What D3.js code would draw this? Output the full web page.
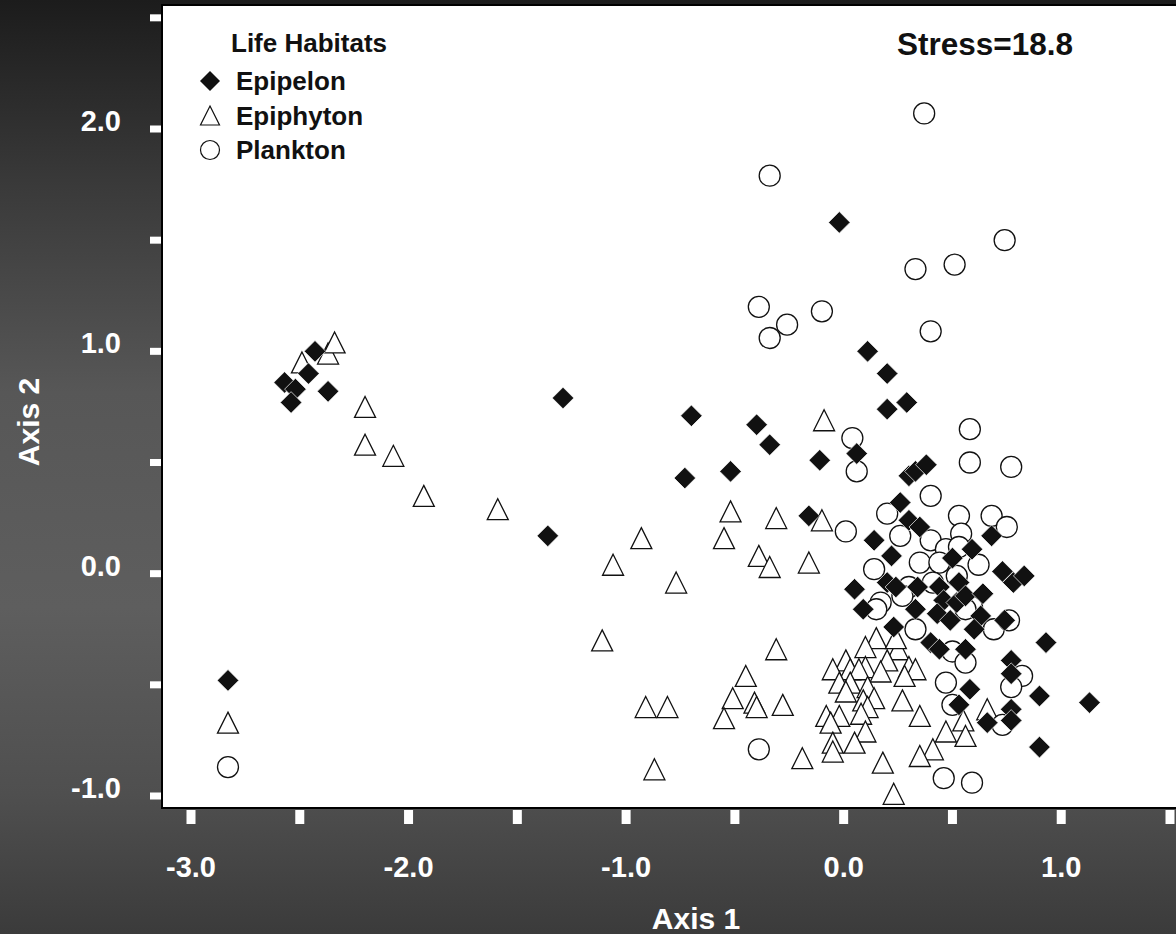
<!DOCTYPE html>
<html>
<head>
<meta charset="utf-8">
<script src="https://cdn.jsdelivr.net/npm/d3@7"></script>
<style>
  body { margin: 0; background: #333; }
  svg { display: block; }
  text { font-family: "Liberation Sans", Arial, Helvetica, sans-serif; font-weight: bold; }
</style>
</head>
<body>
<svg id="chart" width="1176" height="934"></svg>
<script>
// NMDS ordination scores, [axis1, axis2]
var epipelon = [
  [-2.83,-0.48],[-2.57,0.86],[-2.52,0.83],[-2.54,0.77],[-2.46,0.90],[-2.43,1.00],[-2.37,0.82],
  [-1.36,0.17],[-1.29,0.79],[-0.73,0.43],[-0.70,0.71],[-0.52,0.46],[-0.40,0.67],[-0.34,0.58],
  [-0.16,0.26],[-0.11,0.51],[-0.02,1.58],[0.06,0.54],[0.11,1.00],[0.20,0.90],[0.20,0.74],[0.29,0.77],
  [0.30,0.44],[0.33,0.46],[0.38,0.49],[0.26,0.32],[0.30,0.24],[0.35,0.21],[0.14,0.15],[0.22,0.08],
  [0.50,0.07],[0.59,0.11],[0.68,0.17],[0.73,0.01],[0.78,-0.04],[0.83,-0.01],[0.05,-0.07],[0.20,-0.04],
  [0.24,-0.06],[0.34,-0.06],[0.09,-0.16],[0.23,-0.24],[0.33,-0.16],[0.44,-0.06],[0.53,-0.04],[0.46,-0.12],
  [0.52,-0.13],[0.43,-0.18],[0.49,-0.21],[0.56,-0.10],[0.64,-0.09],[0.63,-0.19],[0.60,-0.25],[0.74,-0.21],
  [0.93,-0.31],[0.40,-0.31],[0.44,-0.34],[0.56,-0.34],[0.77,-0.39],[0.77,-0.45],[0.58,-0.52],[0.53,-0.59],
  [0.90,-0.55],[1.13,-0.58],[0.77,-0.61],[0.77,-0.66],[0.66,-0.67],[0.90,-0.78]
];

var epiphyton = [
  [-2.83,-0.67],[-2.49,0.95],[-2.37,0.99],[-2.34,1.04],[-2.20,0.75],[-2.20,0.58],[-2.07,0.53],[-1.93,0.35],
  [-1.59,0.29],[-1.06,0.04],[-0.93,0.16],[-1.11,-0.30],[-0.77,-0.04],[-0.91,-0.60],[-0.81,-0.60],[-0.87,-0.88],
  [-0.52,0.28],[-0.55,0.16],[-0.45,-0.46],[-0.51,-0.56],[-0.55,-0.65],[-0.31,0.25],[-0.39,0.08],[-0.34,0.03],
  [-0.31,-0.34],[-0.41,-0.58],[-0.40,-0.60],[-0.28,-0.59],[-0.16,0.05],[-0.09,0.69],[-0.10,0.24],[-0.19,-0.83],
  [0.15,-0.29],[0.10,-0.33],[0.25,-0.34],[0.24,-0.29],[0.20,-0.39],[0.01,-0.39],[-0.05,-0.43],[0.03,-0.43],
  [0.10,-0.42],[0.07,-0.43],[0.17,-0.44],[0.30,-0.42],[0.33,-0.43],[0.28,-0.46],[-0.02,-0.49],[0.03,-0.49],
  [0.11,-0.51],[0.01,-0.53],[0.14,-0.56],[0.09,-0.57],[0.11,-0.60],[0.27,-0.57],[0.08,-0.63],[-0.08,-0.64],
  [-0.02,-0.64],[-0.06,-0.67],[0.35,-0.64],[0.10,-0.71],[-0.05,-0.76],[-0.05,-0.80],[0.05,-0.76],[0.47,-0.71],
  [0.55,-0.66],[0.56,-0.73],[0.66,-0.61],[0.41,-0.79],[0.35,-0.82],[0.18,-0.85],[0.23,-0.99]
];

var plankton = [
  [-2.83,-0.87],[-0.34,1.79],[0.37,2.07],[0.74,1.50],[0.51,1.39],[0.33,1.37],[-0.39,1.20],[-0.26,1.12],
  [-0.34,1.06],[-0.10,1.18],[0.40,1.09],[0.58,0.65],[0.58,0.50],[0.77,0.48],[0.04,0.61],[0.06,0.46],
  [0.40,0.35],[0.20,0.27],[0.53,0.26],[0.68,0.26],[0.75,0.21],[0.54,0.18],[0.01,0.19],[0.26,0.17],
  [0.40,0.15],[0.47,0.11],[0.53,0.12],[0.35,0.05],[0.62,0.04],[0.14,0.02],[0.44,0.05],[0.52,-0.01],
  [0.30,-0.06],[0.17,-0.13],[0.27,-0.10],[0.41,-0.04],[0.59,-0.15],[0.15,-0.16],[0.33,-0.25],[0.50,-0.35],
  [0.56,-0.40],[0.69,-0.25],[0.76,-0.21],[0.47,-0.49],[0.50,-0.59],[0.82,-0.46],[0.77,-0.51],[0.73,-0.68],
  [0.46,-0.92],[0.59,-0.94],[-0.39,-0.79],[0.56,-0.16]
];

var xTicks = [-3.0, -2.5, -2.0, -1.5, -1.0, -0.5, 0.0, 0.5, 1.0, 1.5];
var xLabels = [-3.0, -2.0, -1.0, 0.0, 1.0];
var yTicks = [-1.0, -0.5, 0.0, 0.5, 1.0, 1.5, 2.0, 2.5];
var yLabels = [-1.0, 0.0, 1.0, 2.0];
var legendItems = ['Epipelon', 'Epiphyton', 'Plankton'];
var stressText = 'Stress=18.8';

var width = 1176, height = 934;
var plot = {left: 162, top: 5, bottom: 808};

var svg = d3.select('#chart');

var x = d3.scaleLinear().domain([-3, 1.5]).range([191, 1170]);
var y = d3.scaleLinear().domain([-1, 2]).range([796, 129]);

// plain hyphen for negatives, like the original
var fmt = function(d) { return d.toFixed(1); };

// background
var grad = svg.append('defs').append('linearGradient')
    .attr('id', 'bg').attr('x1', 0).attr('y1', 0).attr('x2', 0).attr('y2', 1);
[[0, '#1c1c1c'], [0.2, '#3a3a3a'], [0.42, '#575757'], [0.65, '#5e5e5e'], [0.85, '#4f4f4f'], [1, '#3b3b3b']]
  .forEach(function(s) { grad.append('stop').attr('offset', s[0]).attr('stop-color', s[1]); });

svg.append('rect').attr('width', width).attr('height', height).attr('fill', 'url(#bg)');

// ticks (white blocks outside the frame)
svg.selectAll('.ytick').data(yTicks).enter().append('rect')
    .attr('class', 'ytick')
    .attr('x', plot.left - 12).attr('width', 12)
    .attr('y', function(d) { return y(d) - 3.5; }).attr('height', 7)
    .attr('fill', '#fff');

svg.selectAll('.xtick').data(xTicks).enter().append('rect')
    .attr('class', 'xtick')
    .attr('x', function(d) { return x(d) - 4.5; }).attr('width', 9)
    .attr('y', plot.bottom + 2).attr('height', 14)
    .attr('fill', '#fff');

// plot frame
svg.append('rect')
    .attr('x', plot.left).attr('y', plot.top)
    .attr('width', width - plot.left + 10).attr('height', plot.bottom - plot.top)
    .attr('fill', '#fff').attr('stroke', '#000').attr('stroke-width', 2);

// tick labels
svg.selectAll('.ylab').data(yLabels).enter().append('text')
    .attr('class', 'ylab')
    .attr('x', 121).attr('y', function(d) { return y(d) + 2; })
    .attr('text-anchor', 'end').attr('fill', '#fff').style('font-size', '29px')
    .text(fmt);

svg.selectAll('.xlab').data(xLabels).enter().append('text')
    .attr('class', 'xlab')
    .attr('x', function(d) { return x(d); }).attr('y', 877)
    .attr('text-anchor', 'middle').attr('fill', '#fff').style('font-size', '29px')
    .text(fmt);

// axis titles
svg.append('text').attr('x', 696).attr('y', 929).attr('text-anchor', 'middle')
    .attr('fill', '#fff').style('font-size', '30px').text('Axis 1');
svg.append('text').attr('transform', 'translate(39,422) rotate(-90)').attr('text-anchor', 'middle')
    .attr('fill', '#fff').style('font-size', '30px').text('Axis 2');

// symbol shapes, centred on their bounding box
var diamondType = {draw: function(ctx, r) {
  ctx.moveTo(0, -r); ctx.lineTo(r, 0); ctx.lineTo(0, r); ctx.lineTo(-r, 0); ctx.closePath();
}};
var triangleType = {draw: function(ctx, r) {
  ctx.moveTo(0, -r); ctx.lineTo(r, r); ctx.lineTo(-r, r); ctx.closePath();
}};
var diamond = d3.symbol().type(diamondType).size(10.8);
var triangle = d3.symbol().type(triangleType).size(10.5);

var pts = svg.append('g');

pts.selectAll('.tri').data(epiphyton).enter().append('path')
    .attr('class', 'tri')
    .attr('d', triangle)
    .attr('transform', function(d) { return 'translate(' + x(d[0]) + ',' + y(d[1]) + ')'; })
    .attr('fill', '#fff').attr('stroke', '#111').attr('stroke-width', 1.3);

pts.selectAll('.circ').data(plankton).enter().append('circle')
    .attr('class', 'circ')
    .attr('cx', function(d) { return x(d[0]); })
    .attr('cy', function(d) { return y(d[1]); })
    .attr('r', 10.5)
    .attr('fill', '#fff').attr('stroke', '#111').attr('stroke-width', 1.3);

pts.selectAll('.dia').data(epipelon).enter().append('path')
    .attr('class', 'dia')
    .attr('d', diamond)
    .attr('transform', function(d) { return 'translate(' + x(d[0]) + ',' + y(d[1]) + ')'; })
    .attr('fill', '#111').attr('stroke', '#fff').attr('stroke-width', 0.7);

// legend
var legend = svg.append('g');
legend.append('text').attr('x', 231).attr('y', 52).style('font-size', '26px').attr('fill', '#111').text('Life Habitats');

var legendRows = legend.selectAll('.lrow').data(legendItems).enter().append('g')
    .attr('class', 'lrow')
    .attr('transform', function(d, i) { return 'translate(210,' + (81 + i * 34.5) + ')'; });

legendRows.append('text').attr('x', 26).attr('y', 9).style('font-size', '26px').attr('fill', '#111')
    .text(function(d) { return d; });

legendRows.each(function(d, i) {
  var g = d3.select(this);
  if (i === 0) {
    g.append('path').attr('d', d3.symbol().type(diamondType).size(10)).attr('fill', '#111');
  } else if (i === 1) {
    g.append('path').attr('d', d3.symbol().type(triangleType).size(9.5))
        .attr('fill', '#fff').attr('stroke', '#111').attr('stroke-width', 1.2);
  } else {
    g.append('circle').attr('r', 9.5).attr('fill', '#fff').attr('stroke', '#111').attr('stroke-width', 1.2);
  }
});

// stress annotation
svg.append('text').attr('x', 985).attr('y', 55).attr('text-anchor', 'middle')
    .style('font-size', '31.5px').attr('fill', '#111').text(stressText);
</script>
</body>
</html>
